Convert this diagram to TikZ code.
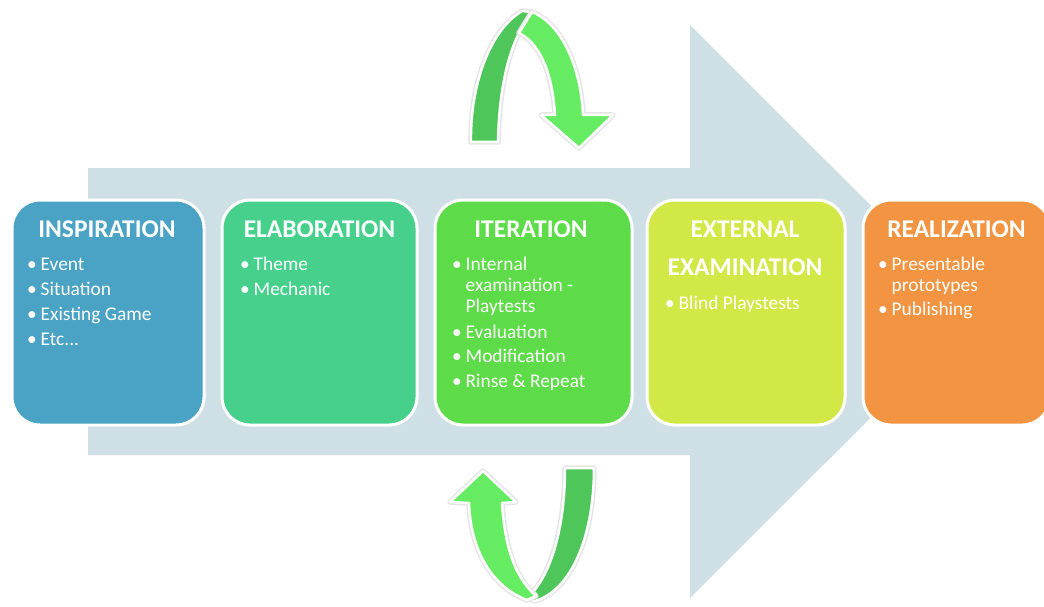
\documentclass[tikz,border=0pt]{standalone}
\usepackage{fontspec}
\setmainfont{Carlito}
\definecolor{flowC}{RGB}{206,223,230}
\definecolor{inspC}{RGB}{74,163,196}
\definecolor{elabC}{RGB}{70,208,140}
\definecolor{iterC}{RGB}{94,219,72}
\definecolor{extC}{RGB}{210,232,70}
\definecolor{realC}{RGB}{242,148,66}
\definecolor{loopDark}{RGB}{78,198,90}
\definecolor{loopLight}{RGB}{102,236,98}
\newcommand\itembul{\makebox[13.5pt][l]{\textbullet}}
\newcommand\itemgap{\hspace*{13.5pt}}
\tikzset{
  stage/.style={draw=white, line width=3pt, rounded corners=28pt, inner sep=0pt,
                minimum height=225pt},
  ttl/.style={text=white, font=\fontsize{25.5}{29}\selectfont\bfseries, inner sep=0pt},
  itm/.style={text=white, font=\fontsize{19.4}{22}\selectfont, inner sep=0pt, anchor=mid west},
  halo/.style={draw=black!10, line width=5.5pt, line join=round},
  band/.style={draw=white, line width=2.5pt, line join=round},
}
\begin{document}
\begin{tikzpicture}[x=1pt,y=-1pt]
\useasboundingbox (0,0) rectangle (1044,607);
\fill[white] (0,0) rectangle (1044,607);
\clip (0,0) rectangle (1044,607);

% broad process arrow in the background
\fill[flowC] (88,168) -- (690,168) -- (690,25) -- (977,311.5) -- (690,598)
  -- (690,455) -- (88,455) -- cycle;

% loop arrow above the iteration stage
\path[halo] (471,142) .. controls (470,85) and (490,30) .. (522,11) -- (532,12)
  -- (519,33) .. controls (508,55) and (499,90) .. (498,142) -- cycle;
\path[band, fill=loopDark] (471,142) .. controls (470,85) and (490,30) .. (522,11) -- (532,12)
  -- (519,33) .. controls (508,55) and (499,90) .. (498,142) -- cycle;
\path[halo] (532,12) .. controls (562,24) and (581,68) .. (583,115) -- (613,115)
  -- (579,148) -- (541,115) -- (555,115) .. controls (553,80) and (543,45) .. (519,33) -- cycle;
\path[band, fill=loopLight] (532,12) .. controls (562,24) and (581,68) .. (583,115) -- (613,115)
  -- (579,148) -- (541,115) -- (555,115) .. controls (553,80) and (543,45) .. (519,33) -- cycle;

% loop arrow below the iteration stage
\path[halo] (565,468) -- (594,468) .. controls (594,535) and (572,590) .. (535,601)
  -- (527,598) .. controls (550,578) and (565,530) .. (565,468) -- cycle;
\path[band, fill=loopDark] (565,468) -- (594,468) .. controls (594,535) and (572,590) .. (535,601)
  -- (527,598) .. controls (550,578) and (565,530) .. (565,468) -- cycle;
\path[halo] (469,503) -- (450,502) -- (483,471) -- (516,502) -- (502,503)
  .. controls (505,550) and (516,578) .. (536,596) -- (527,600)
  .. controls (495,588) and (471,555) .. (469,503) -- cycle;
\path[band, fill=loopLight] (469,503) -- (450,502) -- (483,471) -- (516,502) -- (502,503)
  .. controls (505,550) and (516,578) .. (536,596) -- (527,600)
  .. controls (495,588) and (471,555) .. (469,503) -- cycle;

% stage boxes
\node[stage, fill=inspC, minimum width=192pt] (insp) at (108,312.5) {};
\node[stage, fill=elabC, minimum width=195pt] (elab) at (319.5,312.5) {};
\node[stage, fill=iterC, minimum width=197pt] (iter) at (533.5,312.5) {};
\node[stage, fill=extC,  minimum width=198pt] (ext)  at (746,312.5) {};
\node[stage, fill=realC, minimum width=187pt] (real) at (956.5,312.5) {};

% titles
\node[ttl] (insp-t) at (107,229) {INSPIRATION};
\node[ttl] (elab-t) at (319.5,229) {ELABORATION};
\node[ttl] (iter-t) at (531,229) {ITERATION};
\node[ttl] (ext-t1) at (745,229) {EXTERNAL};
\node[ttl] (ext-t2) at (745,267.5) {EXAMINATION};
\node[ttl] (real-t) at (956.5,229) {REALIZATION};

% bullet points
\node[itm] (insp-1) at (27,268) {\itembul Event};
\node[itm] (insp-2) at (27,293) {\itembul Situation};
\node[itm] (insp-3) at (27,318) {\itembul Existing Game};
\node[itm] (insp-4) at (27,343) {\itembul Etc...};

\node[itm] (elab-1) at (240,268) {\itembul Theme};
\node[itm] (elab-2) at (240,293) {\itembul Mechanic};

\node[itm] (iter-1a) at (452,268) {\itembul Internal};
\node[itm] (iter-1b) at (452,289) {\itemgap examination -};
\node[itm] (iter-1c) at (452,310) {\itemgap Playtests};
\node[itm] (iter-2) at (452,336) {\itembul Evaluation};
\node[itm] (iter-3) at (452,360) {\itembul Modification};
\node[itm] (iter-4) at (452,385) {\itembul Rinse \& Repeat};

\node[itm] (ext-1) at (665,307) {\itembul Blind Playstests};

\node[itm] (real-1a) at (878,268) {\itembul Presentable};
\node[itm] (real-1b) at (878,289) {\itemgap prototypes};
\node[itm] (real-2) at (878,313) {\itembul Publishing};
\end{tikzpicture}
\end{document}
